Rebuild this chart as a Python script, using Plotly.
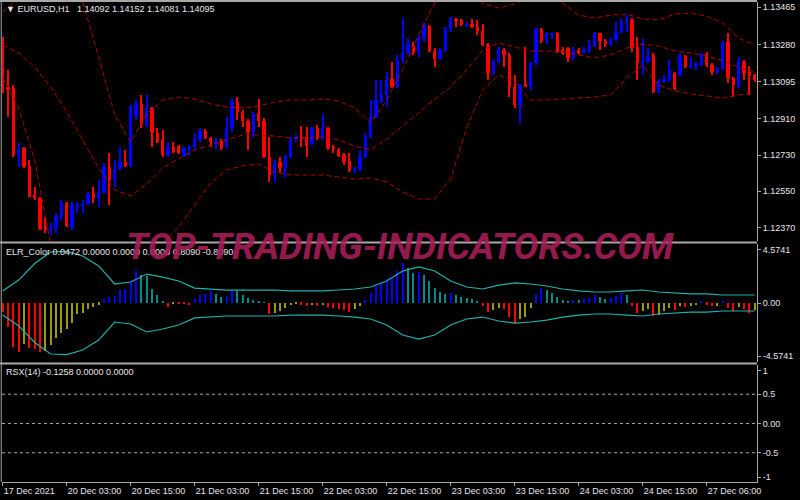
import plotly.graph_objects as go
from plotly.subplots import make_subplots

# EURUSD H1, prices in points (1e-5), one entry per bar
opens = [113286, 113067, 113062, 112730, 112764, 112676, 112530, 112515, 112371, 112358,
         112366, 112424, 112494, 112374, 112474, 112477, 112487, 112540, 112515, 112543,
         112669, 112606, 112659, 112697, 112677, 112924, 112982, 112880, 112962, 112838,
         112805, 112730, 112772, 112775, 112730, 112764, 112769, 112805, 112851, 112817,
         112788, 112802, 112772, 112863, 112996, 112946, 112901, 112846, 112938, 112901,
         112722, 112631, 112694, 112664, 112722, 112808, 112822, 112822, 112784, 112863,
         112813, 112863, 112772, 112755, 112730, 112702, 112653, 112659, 112722, 112822,
         112918, 112996, 113029, 113107, 113067, 113203, 113236, 113277, 113244, 113310,
         113372, 113247, 113206, 113249, 113360, 113407, 113402, 113375, 113382, 113365,
         113349, 113277, 113140, 113194, 113252, 113228, 113067, 112979, 113082, 113067,
         113186, 113355, 113302, 113329, 113335, 113252, 113261, 113211, 113252, 113244,
         113249, 113272, 113335, 113299, 113281, 113302, 113344, 113398, 113402, 113266,
         113189, 113194, 113228, 113045, 113095, 113103, 113140, 113128, 113223, 113170,
         113173, 113178, 113233, 113178, 113140, 113161, 113294, 113112, 113070, 113194,
         113145, 113128]
highs = [113319, 113153, 113078, 112788, 112772, 112706, 112573, 112523, 112424, 112391,
         112441, 112507, 112499, 112499, 112499, 112507, 112548, 112573, 112606, 112689,
         112739, 112706, 112772, 112755, 112979, 113004, 113029, 113029, 112971, 112863,
         112855, 112797, 112797, 112780, 112772, 112780, 112838, 112863, 112858, 112822,
         112813, 112808, 112921, 113012, 113020, 112954, 112908, 112946, 113007, 112913,
         112822, 112706, 112722, 112730, 112822, 112830, 112875, 112871, 112871, 112880,
         112934, 112871, 112780, 112764, 112742, 112739, 112672, 112755, 112838, 113004,
         113103, 113103, 113145, 113194, 113228, 113410, 113310, 113294, 113322, 113385,
         113377, 113261, 113261, 113368, 113415, 113410, 113405, 113393, 113407, 113402,
         113382, 113286, 113203, 113269, 113261, 113239, 113128, 113083, 113269, 113194,
         113360, 113360, 113344, 113339, 113340, 113269, 113269, 113269, 113261, 113269,
         113302, 113340, 113339, 113305, 113310, 113393, 113405, 113426, 113410, 113315,
         113305, 113261, 113236, 113107, 113128, 113203, 113145, 113236, 113228, 113219,
         113194, 113236, 113244, 113186, 113170, 113299, 113335, 113120, 113219, 113203,
         113173, 113133]
lows = [113037, 112921, 112722, 112672, 112664, 112520, 112507, 112358, 112341, 112333,
        112341, 112407, 112374, 112358, 112441, 112441, 112482, 112490, 112474, 112540,
        112482, 112573, 112656, 112672, 112672, 112904, 112863, 112871, 112772, 112788,
        112722, 112722, 112739, 112735, 112722, 112730, 112755, 112797, 112808, 112772,
        112759, 112755, 112764, 112846, 112904, 112871, 112755, 112822, 112871, 112714,
        112598, 112598, 112639, 112623, 112714, 112797, 112772, 112722, 112780, 112805,
        112805, 112755, 112739, 112722, 112681, 112648, 112639, 112653, 112714, 112813,
        112913, 112987, 112971, 113062, 113062, 113186, 113228, 113228, 113219, 113294,
        113244, 113170, 113203, 113244, 113344, 113368, 113372, 113368, 113360, 113327,
        113272, 113103, 113128, 113186, 113170, 113020, 112962, 112888, 113070, 113054,
        113178, 113286, 113282, 113305, 113236, 113228, 113194, 113203, 113228, 113233,
        113239, 113269, 113252, 113269, 113272, 113299, 113335, 113344, 113244, 113103,
        113128, 113186, 113040, 113040, 113087, 113095, 113054, 113123, 113161, 113161,
        113153, 113173, 113170, 113128, 113133, 113153, 113087, 113020, 113062, 113103,
        113029, 113095]
closes = [113062, 113054, 112730, 112759, 112672, 112523, 112515, 112361, 112358, 112374,
          112427, 112499, 112378, 112482, 112482, 112487, 112537, 112515, 112548, 112669,
          112606, 112661, 112697, 112676, 112971, 112982, 112880, 112962, 112838, 112797,
          112730, 112772, 112747, 112742, 112764, 112772, 112808, 112851, 112813, 112797,
          112797, 112764, 112863, 112996, 112946, 112901, 112846, 112938, 112901, 112722,
          112631, 112694, 112664, 112726, 112805, 112818, 112813, 112777, 112863, 112813,
          112863, 112764, 112759, 112726, 112697, 112656, 112664, 112722, 112822, 112918,
          113004, 113029, 113103, 113070, 113203, 113239, 113281, 113239, 113315, 113377,
          113247, 113206, 113252, 113360, 113410, 113398, 113377, 113382, 113365, 113349,
          113277, 113140, 113198, 113256, 113228, 113067, 112979, 113078, 113073, 113186,
          113355, 113299, 113335, 113335, 113244, 113239, 113211, 113252, 113239, 113252,
          113277, 113335, 113299, 113282, 113305, 113344, 113398, 113405, 113261, 113189,
          113198, 113223, 113045, 113098, 113107, 113153, 113057, 113223, 113170, 113178,
          113183, 113233, 113178, 113145, 113161, 113294, 113112, 113078, 113199, 113140,
          113123, 113103]

# Bollinger bands, sampled every 3 bars (points)
band_idx = list(range(0, 142, 3))
band_upper = [113441, 113511, 113630, 113849, 113690, 113491, 113218, 112929, 112795, 112934,
              113004, 113019, 113009, 112984, 112969, 112964, 112974, 112994, 113004, 113004,
              113009, 112999, 112964, 112890, 113004, 113153, 113327, 113486, 113526, 113551,
              113486, 113461, 113481, 113526, 113526, 113486, 113426, 113412, 113426, 113431,
              113407, 113402, 113431, 113436, 113421, 113387, 113312, 113277]
band_mid = [113277, 113238, 113168, 113069, 112944, 112805, 112666, 112557, 112527, 112586,
            112666, 112711, 112756, 112780, 112805, 112830, 112830, 112825, 112815, 112815,
            112820, 112805, 112775, 112756, 112810, 112875, 112939, 113009, 113069, 113153,
            113252, 113287, 113267, 113248, 113248, 113243, 113228, 113213, 113228, 113262,
            113282, 113272, 113248, 113238, 113223, 113198, 113168, 113143]
band_lower = [113118, 112964, 112706, 112288, 112199, 112119, 112109, 112149, 112199, 112249,
              112293, 112373, 112482, 112591, 112656, 112676, 112686, 112646, 112631, 112631,
              112631, 112621, 112611, 112616, 112596, 112547, 112512, 112512, 112611, 112865,
              113054, 113128, 113093, 113004, 113004, 113009, 113014, 113019, 113029, 113113,
              113178, 113079, 113049, 113034, 113024, 113014, 113029, 113039]

# ELR_Color histogram, one value per bar
elr_values = [-0.75, -2.05, -3.77, -4.20, -3.54, -3.86, -4.00, -4.25, -4.14, -3.62,
              -3.05, -2.56, -2.27, -1.75, -0.97, -0.89, -0.54, -0.32, -0.17, 0.35,
              0.49, 0.63, 1.12, 1.18, 1.84, 2.76, 2.42, 2.33, 1.18, 0.69,
              0.20, -0.32, -0.08, -0.10, -0.11, -0.19, 0.32, 0.69, 0.75, 1.05,
              0.80, 0.55, 0.62, 1.15, 1.00, 0.70, 0.40, 0.30, 0.20, 0.05,
              -0.95, -0.85, -0.70, -0.45, -0.20, -0.10, -0.15, -0.30, -0.20, -0.25,
              -0.18, -0.35, -0.40, -0.55, -0.60, -0.75, -0.55, -0.30, 0.25, 0.90,
              1.50, 1.70, 2.10, 2.20, 2.80, 3.45, 3.00, 2.60, 2.70, 2.40,
              1.90, 1.30, 0.95, 0.80, 0.90, 0.70, 0.55, 0.45, 0.35, 0.20,
              -0.30, -0.80, -0.60, -0.40, -0.55, -1.20, -1.80, -1.40, -1.20, -0.40,
              0.80, 1.30, 1.10, 0.90, 0.50, 0.30, 0.20, 0.30, 0.25, 0.35,
              0.40, 0.65, 0.50, 0.35, 0.40, 0.60, 0.85, 0.70, -0.30, -0.90,
              -0.70, -0.50, -1.10, -1.00, -0.70, -0.40, -0.60, -0.30, -0.35, -0.25,
              -0.20, 0.10, -0.15, -0.30, -0.25, 0.20, -0.40, -0.70, -0.35, -0.50,
              -0.90, -0.60]
# ELR envelope level (drawn as +level / -level), every 3 bars
elr_level = [1.04, 1.98, 3.41, 4.40, 4.45, 4.06, 3.20, 1.64, 1.81, 2.50,
             2.24, 1.90, 1.29, 1.21, 1.12, 1.12, 1.12, 1.12, 1.04, 1.04,
             1.04, 1.12, 1.21, 1.38, 1.90, 2.76, 3.11, 2.76, 1.90, 1.38,
             1.21, 1.55, 1.73, 1.64, 1.47, 1.21, 1.04, 0.95, 0.95, 1.04,
             1.12, 0.95, 0.86, 0.78, 0.78, 0.69, 0.69, 0.69]

tick_idx = list(range(0, 133, 12))
tick_labels = ["17 Dec 2021", "20 Dec 03:00", "20 Dec 15:00", "21 Dec 03:00",
               "21 Dec 15:00", "22 Dec 03:00", "22 Dec 15:00", "23 Dec 03:00",
               "23 Dec 15:00", "24 Dec 03:00", "24 Dec 15:00", "27 Dec 06:00"]
price_ticks = [1.13465, 1.13280, 1.13095, 1.12910, 1.12730, 1.12550, 1.12370]

BULL = "#0000FF"
BEAR = "#FF0000"
TEAL = "#008B8B"
OLIVE = "#9A9A10"
TEXT = "#E6E6E6"
FRAME = "#A8A8A8"
FONT = "Liberation Sans, DejaVu Sans, sans-serif"

pt = 1e-5
bars = list(range(len(opens)))
o = [v * pt for v in opens]
h = [v * pt for v in highs]
l = [v * pt for v in lows]
c = [v * pt for v in closes]

fig = make_subplots(rows=3, cols=1, shared_xaxes=True, vertical_spacing=0)

# bands behind the candles
for band in (band_upper, band_mid, band_lower):
    fig.add_trace(go.Scatter(x=band_idx, y=[v * pt for v in band], mode="lines",
                             line=dict(color="#B00000", width=1, dash="5px,3px"),
                             hoverinfo="skip"), row=1, col=1)

# candles drawn as wick bars + body bars
for is_bull, colour in ((True, BULL), (False, BEAR)):
    sel = [i for i in bars if (c[i] >= o[i]) == is_bull]
    fig.add_trace(go.Bar(x=sel, y=[h[i] - l[i] for i in sel], base=[l[i] for i in sel],
                         width=0.22, marker=dict(color=colour, line=dict(width=0)),
                         hoverinfo="skip"), row=1, col=1)
    fig.add_trace(go.Bar(x=sel, y=[abs(c[i] - o[i]) for i in sel],
                         base=[min(o[i], c[i]) for i in sel],
                         width=0.6, marker=dict(color=colour, line=dict(width=0)),
                         hoverinfo="skip"), row=1, col=1)

# ELR histogram colouring: sign and direction
hist_colors = []
for i, v in enumerate(elr_values):
    prev = elr_values[i - 1] if i else v
    if v >= 0:
        hist_colors.append(BULL if v >= prev else TEAL)
    else:
        hist_colors.append(BEAR if v <= prev else OLIVE)

fig.add_trace(go.Bar(x=bars, y=elr_values, width=0.38,
                     marker=dict(color=hist_colors, line=dict(width=0)),
                     hoverinfo="skip"), row=2, col=1)
fig.add_trace(go.Scatter(x=band_idx, y=elr_level, mode="lines",
                         line=dict(color="#20B2AA", width=1.2), hoverinfo="skip"),
              row=2, col=1)
fig.add_trace(go.Scatter(x=band_idx, y=[-v for v in elr_level], mode="lines",
                         line=dict(color="#20B2AA", width=1.2), hoverinfo="skip"),
              row=2, col=1)

axis_font = dict(family=FONT, size=9, color=TEXT)
x_range = [-0.13, 141.44]
for r in (1, 2, 3):
    fig.update_xaxes(range=x_range, showgrid=False, zeroline=False, showline=False,
                     showticklabels=False, ticks="", row=r, col=1)
fig.update_xaxes(tickvals=tick_idx, ticktext=tick_labels, showticklabels=True,
                 ticks="outside", ticklen=3, tickcolor=FRAME, showline=True,
                 linecolor=FRAME, linewidth=1, tickfont=axis_font,
                 ticklabelposition="outside right", row=3, col=1)

yax = dict(side="right", showgrid=False, zeroline=False, showline=True,
           linecolor=FRAME, linewidth=1, ticks="outside", ticklen=3,
           tickcolor=FRAME, tickfont=axis_font)
fig.update_yaxes(**yax, range=[1.12303, 1.13491], tickvals=price_ticks,
                 ticktext=[f"{v:.5f}" for v in price_ticks],
                 domain=[0.5021, 1.0], row=1, col=1)
fig.update_yaxes(**yax, range=[-5.09, 5.09], tickvals=[4.5741, 0, -4.5741],
                 ticktext=["4.5741", "0.00", "-4.5741"],
                 domain=[0.25, 0.4958], row=2, col=1)
fig.update_yaxes(**yax, range=[-1, 1], tickvals=[0.9, 0.5, 0, -0.5, -0.92],
                 ticktext=["1", "0.5", "0.00", "-0.5", "-1"],
                 domain=[0, 0.2438], row=3, col=1)

# RSX level lines
for lv in (0.5, 0, -0.5):
    fig.add_shape(type="line", xref="x3 domain", yref="y3", x0=0, x1=1, y0=lv, y1=lv,
                  line=dict(color=FRAME, width=1, dash="dot"))

# frame and panel separators (paper coords of the plot area)
for yp in (1.002, 0.4990, 0.2469):
    fig.add_shape(type="line", xref="paper", yref="paper", x0=-0.003, x1=1.0,
                  y0=yp, y1=yp, line=dict(color=FRAME, width=2))
fig.add_shape(type="line", xref="paper", yref="paper", x0=-0.001, x1=-0.001,
              y0=0, y1=1.002, line=dict(color=FRAME, width=1))

labels = [
    ("\u25bc EURUSD,H1\u00a0\u00a0 1.14092 1.14152 1.14081 1.14095", 0.9854),
    ("ELR_Color 0.0472 0.0000 0.0000 0.0000 0.8090 -0.8090", 0.4792),
    ("RSX(14) -0.1258 0.0000 0.0000", 0.2292),
]
for txt, yp in labels:
    fig.add_annotation(text=txt, xref="paper", yref="paper", x=0.003, y=yp,
                       xanchor="left", yanchor="middle", showarrow=False,
                       font=dict(family=FONT, size=9, color=TEXT))

fig.add_annotation(text="TOP-TRADING-INDICATORS.COM", xref="paper", yref="paper",
                   x=0.527, y=0.4896, xanchor="center", yanchor="middle",
                   showarrow=False,
                   font=dict(family="Roboto, Liberation Sans, sans-serif",
                             size=37, color="rgba(170,30,90,0.9)",
                             weight="bold", style="italic"))

fig.update_layout(
    width=800, height=500,
    margin=dict(l=2, r=43, t=2, b=18),
    paper_bgcolor="#000000", plot_bgcolor="#000000",
    barmode="overlay", bargap=0, showlegend=False,
)
fig.update_xaxes(rangeslider_visible=False)

# page body has a default 8px margin; drop it so the figure fills the window
fig.write_html("out.html", config={"displayModeBar": False},
               post_script="document.body.style.margin='0';"
                           "document.body.style.overflow='hidden';")
